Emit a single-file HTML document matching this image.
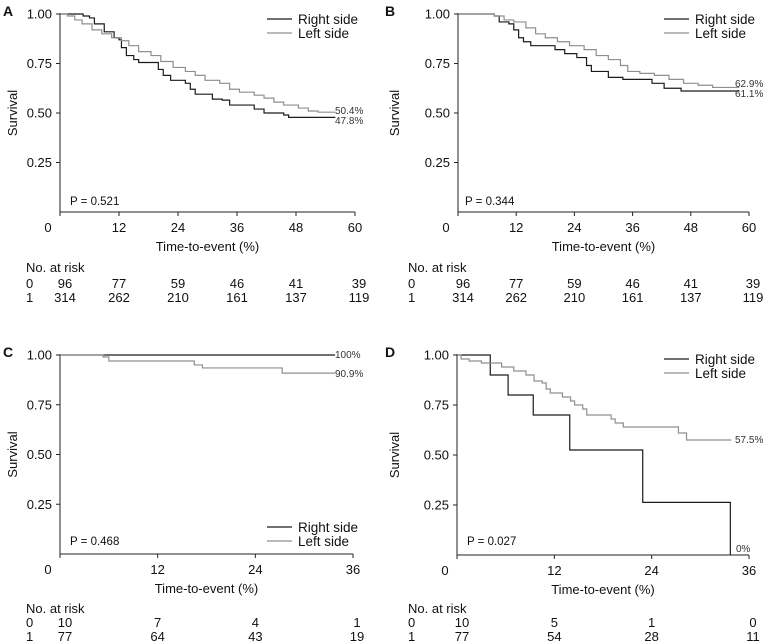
<!DOCTYPE html>
<html><head><meta charset="utf-8"><style>
html,body{margin:0;padding:0;background:#fff}
svg{display:block;font-family:"Liberation Sans",Arial,sans-serif}
</style></head><body>
<svg id="fig" width="764" height="642" viewBox="0 0 764 642"></svg>
<script>
const ticksA = [0,12,24,36,48,60];
const ticksC = [0,12,24,36];
const yTicks = [0.25,0.5,0.75,1.0];
const yTickLabels = ["0.25","0.50","0.75","1.00"];
const rightA = [[0,1],[4.7,0.99],[6,0.98],[7,0.95],[9,0.91],[11,0.88],[12,0.87],[12.5,0.83],[13.5,0.79],[15,0.77],[16,0.755],[20,0.72],[21,0.69],[22.5,0.665],[25.5,0.65],[26.5,0.62],[27.5,0.595],[31,0.57],[33,0.565],[34.5,0.54],[39.5,0.52],[41.5,0.5],[45.5,0.49],[46.5,0.478],[56,0.478]];
const leftA = [[0,1],[1.5,0.99],[3,0.97],[4.5,0.95],[6.5,0.92],[8.5,0.9],[10.5,0.88],[12.5,0.865],[14,0.84],[16,0.81],[18.5,0.79],[20.5,0.76],[23,0.73],[25.5,0.71],[27.5,0.69],[29.5,0.665],[32.5,0.65],[34.5,0.62],[36.5,0.605],[39.5,0.59],[41.5,0.575],[43.5,0.555],[45.5,0.54],[48.5,0.525],[50.5,0.51],[52.5,0.504],[56,0.504]];
const rightB = [[0,1],[7.5,0.99],[8.5,0.96],[10.5,0.95],[11.5,0.92],[12.5,0.88],[13.5,0.86],[15,0.84],[20,0.82],[22,0.8],[24.5,0.78],[26.5,0.74],[27.5,0.71],[31,0.68],[34,0.67],[40,0.65],[42.5,0.625],[46,0.611],[58,0.611]];
const leftB = [[0,1],[7.5,0.99],[9.5,0.97],[11.5,0.96],[14,0.93],[16,0.9],[18,0.88],[20.5,0.86],[23,0.84],[26,0.82],[28.5,0.79],[31,0.77],[33.5,0.74],[35,0.71],[37.5,0.7],[40.5,0.69],[43.5,0.67],[46.5,0.65],[49.5,0.64],[52.5,0.629],[58,0.629]];
const rightC = [[0,1],[33.8,1]];
const leftC = [[0,1],[5.3,0.99],[6,0.97],[16.5,0.95],[17.5,0.935],[27.3,0.909],[33.8,0.909]];
const rightD = [[0,1],[4.1,0.9],[6.3,0.8],[9.4,0.7],[13.9,0.525],[22.9,0.263],[33.7,0],[33.7,0]];
const leftD = [[0,1],[0.5,0.98],[1.5,0.97],[3,0.96],[5.5,0.94],[7,0.92],[8.5,0.9],[9.5,0.87],[10.5,0.86],[11,0.83],[11.5,0.81],[13,0.79],[14,0.77],[14.5,0.75],[15.5,0.73],[16,0.7],[19,0.68],[19.5,0.66],[20.5,0.64],[27.3,0.61],[28.3,0.575],[33.8,0.575]];
const riskA0 = [96,77,59,46,41,39];
const riskA1 = [314,262,210,161,137,119];
const riskC0 = [10,7,4,1];
const riskC1 = [77,64,43,19];
const riskD0 = [10,5,1,0];
const riskD1 = [77,54,28,11];

const svg = document.getElementById('fig');
const NS = 'http://www.w3.org/2000/svg';
function mk(tag, attrs, parent){const e=document.createElementNS(NS,tag);for(const k in attrs)e.setAttribute(k,attrs[k]);(parent||svg).appendChild(e);return e;}
function txt(x,y,s,size,anchor,parent,extra){const t=mk('text',Object.assign({x:x,y:y,'font-size':size,'text-anchor':anchor||'start',fill:'#111'},extra||{}),parent);t.textContent=s;return t;}

const panels = [
 {id:'a',letter:'A',x0:60,x1:355,yT:14,yB:212,xmax:60,ticks:ticksA,series:[rightA,leftA],risk:[riskA0,riskA1],p:'P = 0.521',px:70,py:205,
  leg:{x:267,y:19},ends:[['47.8%',335,124],['50.4%',335,114]],ox:0,rh:272,rg:[16,30]},
 {id:'b',letter:'B',x0:458,x1:749,yT:14,yB:212,xmax:60,ticks:ticksA,series:[rightB,leftB],risk:[riskA0,riskA1],p:'P = 0.344',px:465,py:205,
  leg:{x:664,y:19},ends:[['61.1%',735,97],['62.9%',735,87]],ox:382,rh:272,rg:[16,30]},
 {id:'c',letter:'C',x0:60,x1:353,yT:355,yB:554,xmax:36,ticks:ticksC,series:[rightC,leftC],risk:[riskC0,riskC1],p:'P = 0.468',px:70,py:545,
  leg:{x:267,y:527},ends:[['100%',335,358],['90.9%',335,377]],ox:0,rh:613,rg:[14,28]},
 {id:'d',letter:'D',x0:457,x1:749,yT:355,yB:555,xmax:36,ticks:ticksC,series:[rightD,leftD],risk:[riskD0,riskD1],p:'P = 0.027',px:467,py:545,
  leg:{x:664,y:359},ends:[['57.5%',735,443],['0%',736,552]],ox:382,rh:613,rg:[14,28]}
];
const colors=['#1a1a1a','#8f8f8f'];
panels.forEach(P=>{
  const g=mk('g',{});
  
  
  const sx=t=>P.x0+(P.x1-P.x0)*t/P.xmax;
  const sy=v=>P.yB-(P.yB-P.yT)*v;
  const L=txt(P.ox+3,P.yT+2,P.letter,14,'start',g,{'font-weight':'bold'});
  
  
  const ax=mk('path',{d:`M${P.x0},${P.yT-1}V${P.yB}H${P.x1}`,stroke:'#222','stroke-width':1,fill:'none'},g);
  
  
  yTicks.forEach((v,i)=>{
    mk('line',{x1:P.x0-4,x2:P.x0,y1:sy(v),y2:sy(v),stroke:'#222'},g);
    const t=txt(P.x0-8,sy(v)+4.5,yTickLabels[i],13,'end',g);
    
    
  });
  P.ticks.forEach(v=>{
    mk('line',{x1:sx(v),x2:sx(v),y1:P.yB,y2:P.yB+4,stroke:'#222'},g);
    const t=txt(v===0?sx(v)-12:sx(v),P.yB+20,String(v),13,'middle',g);
    
    
  });
  const yt=txt(0,0,'Survival',13,'middle',g,{transform:`translate(${P.ox+17},${(P.yT+P.yB)/2}) rotate(-90)`});
  
  
  const xt=txt((P.x0+P.x1)/2,P.yB+39,'Time-to-event (%)',13,'middle',g);
  
  
  P.series.forEach((s,i)=>{
    let d=`M${sx(s[0][0])},${sy(s[0][1])}`;
    for(let k=1;k<s.length;k++){d+=`H${sx(s[k][0])}V${sy(s[k][1])}`;}
    const p=mk('path',{d:d,stroke:colors[i],'stroke-width':1.2,fill:'none'},g);
    
    
  });
  P.ends.forEach(e=>{
    const t=txt(e[1],e[2],e[0],10,'start',g,{fill:'#333'});
    
    
  });
  const pt=txt(P.px,P.py,P.p,11.5,'start',g);
  
  
  ['Right side','Left side'].forEach((n,i)=>{
    const ly=P.leg.y+i*14;
    const lg=mk('g',{},g);
    
    
    mk('line',{x1:P.leg.x,x2:P.leg.x+25,y1:ly,y2:ly,stroke:colors[i],'stroke-width':1.2},lg);
    txt(P.leg.x+31,ly+5,n,13.5,'start',lg);
  });
  const rt=mk('g',{},g);
  
  
  const ry=P.rh;
  txt(P.ox+26,ry,'No. at risk',13,'start',rt);
  P.risk.forEach((row,ri)=>{
    const yy=ry+P.rg[ri];
    txt(P.ox+26,yy,String(ri),13,'start',rt);
    row.forEach((v,k)=>{
      const tv=P.ticks[k];
      let x=sx(tv);
      if(k===0)x+=5; else if(k===row.length-1)x+=4;
      txt(x,yy,String(v),13,'middle',rt);
    });
  });
});
</script>
</body></html>
